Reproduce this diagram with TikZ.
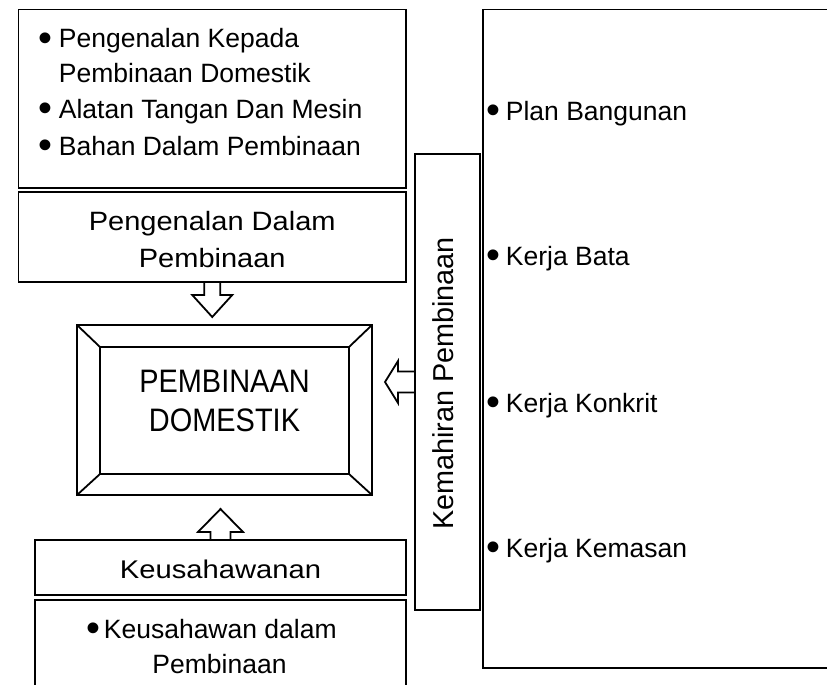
\documentclass[tikz,border=0pt]{standalone}
\usepackage{fontspec}
\setmainfont{Liberation Sans}
\usepackage{graphicx}
\newcommand{\mybul}[1]{\makebox[#1][l]{\raisebox{-3.5pt}{\scalebox{1.5}{•}}}}
\tikzset{
  box/.style={draw, rectangle, inner sep=0pt, outer sep=0pt},
  txt/.style={inner sep=0pt, font=\fontsize{26.5}{31}\selectfont},
  bigtxt/.style={inner sep=0pt, font=\fontsize{26.5}{31}\selectfont},
  keutxt/.style={inner sep=0pt, font=\fontsize{25.6}{31}\selectfont},
  midtxt/.style={inner sep=0pt, font=\fontsize{32.5}{38}\selectfont},
  vtxt/.style={inner sep=0pt, font=\fontsize{28.8}{34}\selectfont},
  blockarrow/.style={draw, line join=miter}
}
\begin{document}
\begin{tikzpicture}[x=1pt,y=-1pt,line width=1.8pt]
\useasboundingbox (0,0) rectangle (827,685);
% top box
\node[box, minimum width=387.5pt, minimum height=178.5pt] (t1) at (212.25,98.75) {};
\node[txt, anchor=base west] (t1a) at (37.5,48) {\mybul{20.5pt}Pengenalan Kepada};
\node[txt, anchor=base west] (t1b) at (58,82) {Pembinaan Domestik};
\node[txt, anchor=base west] (t1c) at (37.5,118) {\mybul{20.5pt}Alatan Tangan Dan Mesin};
\node[txt, anchor=base west] (t1d) at (37.5,155) {\mybul{20.5pt}Bahan Dalam Pembinaan};
% second box
\node[box, minimum width=387.5pt, minimum height=90pt] (t2) at (212.25,237) {};
\node[bigtxt, anchor=base] (t2a) at (212.25,230) {\scalebox{1.095}[1]{Pengenalan Dalam}};
\node[bigtxt, anchor=base] (t2b) at (212.25,267) {\scalebox{1.095}[1]{Pembinaan}};
% frame
\node[box, minimum width=295pt, minimum height=170pt] (fo) at (224.5,410) {};
\node[box, minimum width=249pt, minimum height=127pt] (fi) at (224.5,410.5) {};
\draw (fo.north west) -- (fi.north west);
\draw (fo.north east) -- (fi.north east);
\draw (fo.south west) -- (fi.south west);
\draw (fo.south east) -- (fi.south east);
\node[midtxt, anchor=base] (fm1) at (224.5,392) {\scalebox{0.89}[1]{PEMBINAAN}};
\node[midtxt, anchor=base] (fm2) at (224.5,431) {\scalebox{0.89}[1]{DOMESTIK}};
% down arrow
\draw[blockarrow] (t2.south) ++(-8,0) -- ++(0,13) -- ++(-12,0) -- ++(20,22) -- ++(20,-22) -- ++(-12,0) -- ++(0,-13);
% Kemahiran box
\node[box, minimum width=65pt, minimum height=456pt] (k) at (447.5,382) {};
\node[vtxt, rotate=90, anchor=base] (kt) at (453,383.5) {Kemahiran Pembinaan};
\draw[blockarrow] (k.west) ++(0,-10.5) -- ++(-17,0) -- ++(0,-10.5) -- ++(-13,21) -- ++(13,21) -- ++(0,-10.5) -- ++(17,0);
% right box
\coordinate (rtop) at (835,9.5);
\coordinate (rbot) at (835,668);
\draw (rtop) -| (483,668) -- (rbot);
\node[txt, anchor=base west] (r1) at (486,120) {\mybul{19pt}Plan Bangunan};
\node[txt, anchor=base west] (r2) at (486,265) {\mybul{19pt}Kerja Bata};
\node[txt, anchor=base west] (r3) at (486,412) {\mybul{19pt}Kerja Konkrit};
\node[txt, anchor=base west] (r4) at (486,557) {\mybul{19pt}Kerja Kemasan};
% Keusahawanan
\node[box, minimum width=371pt, minimum height=55pt] (kb) at (220.5,567.5) {};
\node[keutxt, anchor=base] (kbt) at (220.5,578) {\scalebox{1.14}[1]{Keusahawanan}};
\draw[blockarrow] (kb.north) ++(-10,0) -- ++(0,-8) -- ++(-12.5,0) -- ++(22.5,-23) -- ++(22.5,23) -- ++(-12.5,0) -- ++(0,8);
% bottom box
\coordinate (bbl) at (35,695);
\coordinate (bbr) at (406,695);
\draw (bbl) |- (406,600) -- (bbr);
\node[txt, anchor=base west] (b1) at (86,638) {\mybul{17pt}Keusahawan dalam};
\node[txt, anchor=base] (b2) at (219.5,673) {Pembinaan};
\end{tikzpicture}
\end{document}
